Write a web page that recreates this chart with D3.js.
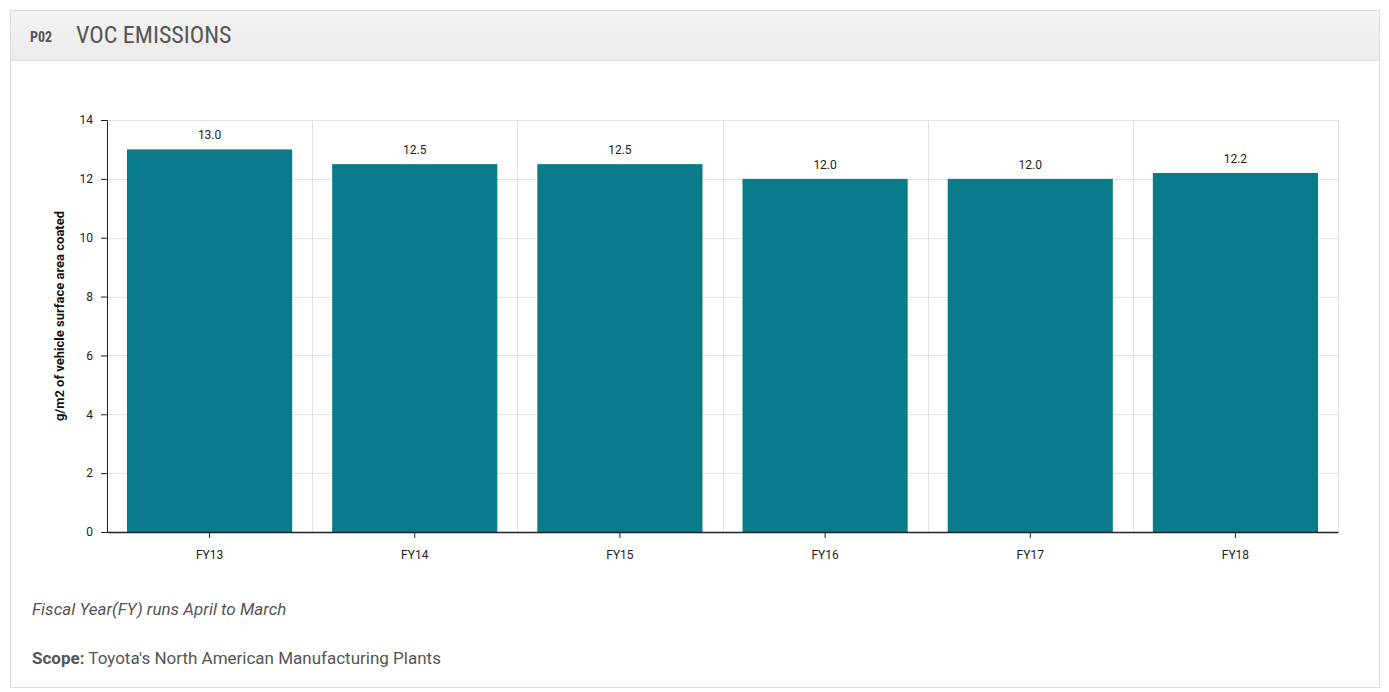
<!DOCTYPE html>
<html><head><meta charset="utf-8">
<script src="https://cdn.jsdelivr.net/npm/d3@7"></script>
<style>
body{margin:0;background:#fff;font-family:Roboto,"Noto Sans",sans-serif;}
</style></head><body>
<svg id="c" width="1389" height="692"></svg>
<script>
const categories = ["FY13","FY14","FY15","FY16","FY17","FY18"];
const values = [13.0, 12.5, 12.5, 12.0, 12.0, 12.2];
const yTicks = [0,2,4,6,8,10,12,14];
const title = "VOC EMISSIONS";
const code = "P02";
const yLabel = "g/m2 of vehicle surface area coated";
const note = "Fiscal Year(FY) runs April to March";
const scopeLabel = "Scope:";
const scopeText = " Toyota's North American Manufacturing Plants";

const svg = d3.select("#c");
const defs = svg.append("defs");
const g1 = defs.append("linearGradient").attr("id","hdr").attr("x1",0).attr("x2",0).attr("y1",0).attr("y2",1);
g1.append("stop").attr("offset","0%").attr("stop-color","#f4f4f4");
g1.append("stop").attr("offset","100%").attr("stop-color","#ebebeb");

// panel
svg.append("rect").attr("x",10.5).attr("y",10.5).attr("width",1369).attr("height",677)
  .attr("fill","#fff").attr("stroke","#dcdcdc");
svg.append("rect").attr("x",11).attr("y",11).attr("width",1368).attr("height",49).attr("fill","url(#hdr)");
svg.append("line").attr("x1",11).attr("x2",1379).attr("y1",60.5).attr("y2",60.5).attr("stroke","#dedede");
svg.append("text").attr("x",30).attr("y",42).text(code)
  .attr("font-family","'Liberation Sans Narrow','Roboto Condensed',Roboto,sans-serif").attr("font-weight","bold").attr("font-size",14).attr("fill","#555");
svg.append("text").attr("x",76).attr("y",43).text(title)
  .attr("font-family","'Liberation Sans Narrow','Roboto Condensed',Roboto,sans-serif").attr("font-size",24).attr("fill","#555");

const m = {l:107, r:1338, t:120, b:532};
const x = d3.scaleBand().domain(categories).range([m.l,m.r]).paddingInner(0.195).paddingOuter(0.0975);
const xb = d3.scaleBand().domain(categories).range([m.l,m.r]);
const y = d3.scaleLinear().domain([0,14]).range([m.b,m.t]);

const g = svg.append("g");
// horizontal grid
g.selectAll(".hg").data(yTicks.filter(d=>d>0)).enter().append("line")
  .attr("x1",m.l).attr("x2",m.r).attr("y1",d=>Math.round(y(d))+0.5).attr("y2",d=>Math.round(y(d))+0.5)
  .attr("stroke","#e2e2e2");
// vertical grid at category boundaries
g.selectAll(".vg").data(categories.slice(1).concat(["__end"])).enter().append("line")
  .attr("x1",(d,i)=>Math.round(m.l + xb.step()*(i+1))+0.5).attr("x2",(d,i)=>Math.round(m.l + xb.step()*(i+1))+0.5)
  .attr("y1",m.t).attr("y2",m.b).attr("stroke","#e2e2e2");

// bars
g.selectAll(".bar").data(values).enter().append("rect")
  .attr("x",(d,i)=>x(categories[i])).attr("width",x.bandwidth())
  .attr("y",d=>y(d)).attr("height",d=>y(0)-y(d)).attr("fill","#0a7b8a");
// value labels
g.selectAll(".vl").data(values).enter().append("text")
  .attr("x",(d,i)=>x(categories[i])+x.bandwidth()/2).attr("y",d=>y(d)-10)
  .attr("text-anchor","middle").attr("font-size",12).attr("fill","#222").text(d=>d.toFixed(1));

// axes
const ya = svg.append("g").attr("transform",`translate(${m.l},0)`)
  .call(d3.axisLeft(y).tickValues(yTicks).tickSize(6).tickPadding(8));
ya.selectAll("text").attr("font-size",12).attr("fill","#222").attr("font-family","Roboto,sans-serif");
ya.select(".domain").attr("stroke","#222");
ya.selectAll(".tick line").attr("stroke","#222");

const xa = svg.append("g").attr("transform",`translate(0,${m.b})`)
  .call(d3.axisBottom(xb).tickSize(6).tickPadding(12).tickSizeOuter(0));
xa.selectAll("text").attr("font-size",12).attr("fill","#222").attr("font-family","Roboto,sans-serif");
xa.select(".domain").attr("stroke","#222").attr("stroke-width",1.5);
xa.selectAll(".tick line").attr("stroke","#222");

svg.append("text").attr("transform",`translate(64,316) rotate(-90)`)
  .attr("text-anchor","middle").attr("font-size",13).attr("font-weight","bold").attr("fill","#111").text(yLabel);

svg.append("text").attr("x",32).attr("y",615).attr("font-size",17).attr("font-style","italic")
  .attr("fill","#555").text(note);
const sc = svg.append("text").attr("x",32).attr("y",664).attr("font-size",17).attr("fill","#555");
sc.append("tspan").attr("font-weight","bold").text(scopeLabel);
sc.append("tspan").text(scopeText);
</script>
</body></html>
